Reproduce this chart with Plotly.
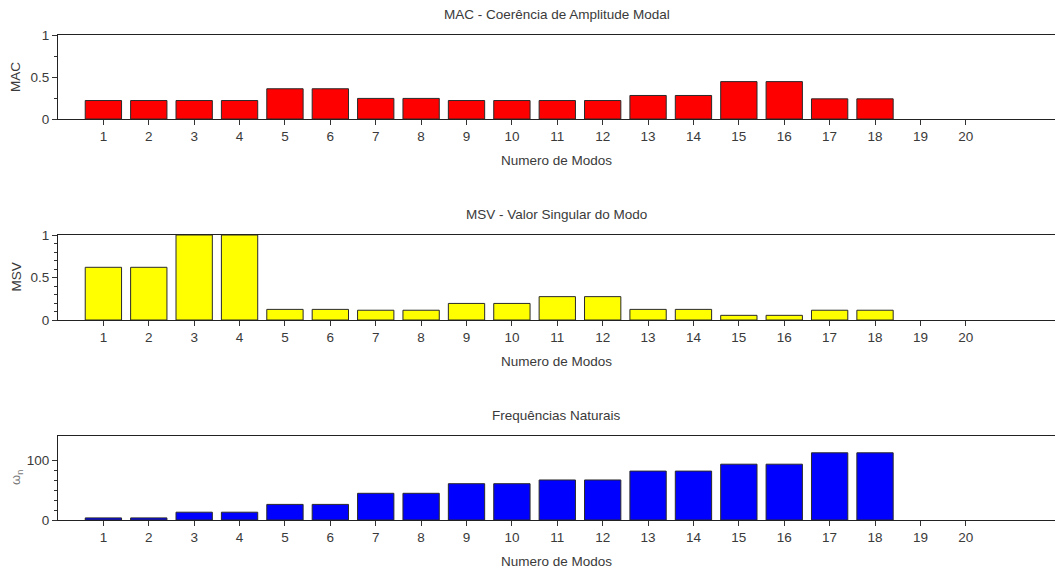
import plotly.graph_objects as go
from plotly.subplots import make_subplots

modos = list(range(1, 21))
mac = [0.22, 0.22, 0.22, 0.22, 0.36, 0.36, 0.245, 0.245, 0.22, 0.22,
       0.22, 0.22, 0.28, 0.28, 0.445, 0.445, 0.24, 0.24, 0.0, 0.0]
msv = [0.62, 0.62, 1.0, 1.0, 0.125, 0.125, 0.115, 0.115, 0.195, 0.195,
       0.275, 0.275, 0.125, 0.125, 0.055, 0.055, 0.115, 0.115, 0.0, 0.0]
freq = [3.5, 3.5, 13.0, 13.0, 26.0, 26.0, 44.5, 44.5, 60.5, 60.5,
        66.7, 66.7, 81.5, 81.5, 93.0, 93.0, 112.0, 112.0, 0.0, 0.0]

titulos = ["MAC - Coerência de Amplitude Modal",
           "MSV - Valor Singular do Modo",
           "Frequências Naturais"]
rotulos_y = ["MAC", "MSV", "ω<sub>n</sub>"]
cores = ["#ff0000", "#ffff00", "#0000ff"]
series = [mac, msv, freq]

W, H = 1055, 572
L = 58
# pixel rows (top, bottom) of each plot area
linhas = [(35, 119), (235, 320), (436, 520)]

fig = make_subplots(rows=3, cols=1)

FAM = "Liberation Sans, Arial, sans-serif"
font_txt = dict(family=FAM, size=13.5, color="#3a3a3a")

for i, (vals, cor) in enumerate(zip(series, cores)):
    # empty modes get no outline so nothing is drawn over the baseline
    contorno = [1 if v > 0 else 0 for v in vals]
    fig.add_trace(go.Bar(x=modos, y=vals, width=0.8,
                         marker=dict(color=cor, line=dict(color="#2a2a2a", width=contorno)),
                         showlegend=False, hoverinfo="x+y"), row=i + 1, col=1)

yranges = [[0, 1], [0, 1], [0, 140]]
yticks = [[0, 0.5, 1], [0, 0.5, 1], [0, 100]]
yticktext = [["0", "0.5", "1"], ["0", "0.5", "1"], ["0", "100"]]
minors = [[0.25, 0.75], [0.1, 0.2, 0.3, 0.4, 0.6, 0.7, 0.8, 0.9],
          [100 / 6 * k for k in range(1, 6)]]

px_unit = 45.39
xmax = (W - L) / px_unit

for i in range(3):
    top, bot = linhas[i]
    dom = [1 - bot / H, 1 - top / H]
    ax = "" if i == 0 else str(i + 1)
    fig.layout["xaxis" + ax].update(
        domain=[0, 1], range=[0, xmax], tickmode="array", tickvals=modos,
        ticktext=[str(m) for m in modos], ticks="outside", ticklen=5,
        tickcolor="#333", showline=True, linecolor="#222", linewidth=1.2,
        mirror=True, showgrid=False, zeroline=False, tickfont=font_txt,
        automargin=False, fixedrange=True)
    fig.layout["yaxis" + ax].update(
        domain=dom, range=yranges[i], tickmode="array", tickvals=yticks[i],
        ticktext=yticktext[i], ticks="outside", ticklen=5, tickcolor="#333",
        showline=True, linecolor="#222", linewidth=1.2, showgrid=False,
        zeroline=False, tickfont=font_txt, ticklabelstandoff=0,
        minor=dict(tickvals=minors[i], ticks="outside", ticklen=3, tickcolor="#333"),
        automargin=False, fixedrange=True)
    # subplot title
    fig.add_annotation(text=titulos[i], xref="paper", yref="paper",
                       x=0.5, y=1 - (top - 21) / H,
                       xanchor="center", yanchor="middle", showarrow=False,
                       font=font_txt)
    # x axis title
    fig.add_annotation(text="Numero de Modos", xref="paper", yref="paper",
                       x=0.5, y=1 - (bot + 41) / H, xanchor="center",
                       yanchor="middle", showarrow=False, font=font_txt)
    # y axis title
    fig.add_annotation(text=rotulos_y[i], x=(16 - L) / (W - L), xref="paper",
                       yref="paper", y=1 - (top + bot) / 2 / H,
                       xanchor="center", yanchor="middle",
                       showarrow=False, textangle=-90,
                       font=dict(family=FAM, size=13.5 if i < 2 else 13,
                                 color="#3a3a3a" if i < 2 else "#777"))

fig.update_layout(width=W, height=H, margin=dict(l=L, r=0, t=0, b=0, autoexpand=False),
                  plot_bgcolor="white", paper_bgcolor="white", bargap=0.2)

fig.write_html("out.html")
